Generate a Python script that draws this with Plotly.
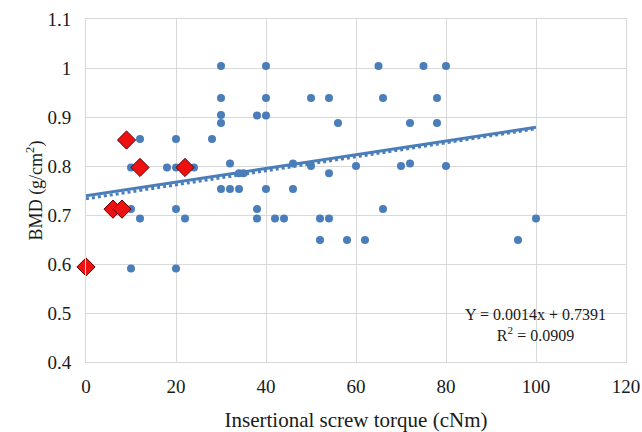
import numpy as np
import plotly.graph_objects as go

blue_x = [10, 12, 18, 20, 20, 24, 28, 10, 12, 20, 22, 10, 20,
          30, 30, 30, 30, 30, 32, 32, 34, 34, 35, 38, 40, 40, 40, 40,
          38, 38, 42, 44, 46, 46, 50, 50, 54, 54, 56, 52, 54, 52, 58, 62,
          60, 65, 66, 66, 70, 72, 72, 75, 80, 78, 78, 80, 100, 96]
blue_y = [0.797, 0.855, 0.797, 0.797, 0.855, 0.797, 0.855, 0.712, 0.693, 0.712, 0.693, 0.591, 0.591,
          1.004, 0.939, 0.904, 0.888, 0.753, 0.805, 0.753, 0.753, 0.785, 0.785, 0.903, 0.903, 1.004, 0.939, 0.753,
          0.712, 0.693, 0.693, 0.693, 0.805, 0.753, 0.939, 0.800, 0.939, 0.785, 0.888, 0.693, 0.693, 0.649, 0.649, 0.649,
          0.800, 1.004, 0.939, 0.712, 0.800, 0.805, 0.888, 1.004, 1.004, 0.939, 0.888, 0.800, 0.693, 0.649]

red_x = [0, 6, 8, 9, 12, 22]
red_y = [0.594, 0.712, 0.712, 0.853, 0.797, 0.797]

fit_slope, fit_intercept = 0.0014, 0.7391
fit2_slope, fit2_intercept = 0.00143, 0.733
fit_range = [0, 100]

x_ticks = [0, 20, 40, 60, 80, 100, 120]
y_ticks = [0.4, 0.5, 0.6, 0.7, 0.8, 0.9, 1.0, 1.1]
y_ticktext = ["0.4", "0.5", "0.6", "0.7", "0.8", "0.9", "1", "1.1"]

BLUE = "#4a7ebb"
font = "Liberation Serif"
TXT = "#1a1a1a"

fx = np.array(fit_range, dtype=float)

fig = go.Figure()
fig.add_trace(go.Scatter(x=fx, y=fit2_slope * fx + fit2_intercept, mode="lines",
                         line=dict(color=BLUE, width=3, dash="dot"), hoverinfo="skip"))
fig.add_trace(go.Scatter(x=fx, y=fit_slope * fx + fit_intercept, mode="lines",
                         line=dict(color=BLUE, width=3), hoverinfo="skip"))
fig.add_trace(go.Scatter(x=blue_x, y=blue_y, mode="markers",
                         marker=dict(color=BLUE, size=8, symbol="circle"), cliponaxis=False))
fig.add_trace(go.Scatter(x=red_x, y=red_y, mode="markers",
                         marker=dict(color="#ee1111", size=14, symbol="diamond",
                                     line=dict(color="#5a0000", width=1)), cliponaxis=False))

L, T, R, B = 86, 19, 16, 70
W, H = 642, 432
PW, PH = W - L - R, H - T - B

fig.add_annotation(x=(535 - L) / PW, y=1 - (325 - T) / PH, xref="paper", yref="paper",
                   xanchor="center", yanchor="middle", showarrow=False,
                   text="Y = 0.0014x + 0.7391<br>R<sup>2</sup> = 0.0909",
                   font=dict(family=font, size=16, color=TXT), align="center")

fig.update_layout(
    width=W, height=H,
    margin=dict(l=L, r=R, t=T, b=B),
    paper_bgcolor="white", plot_bgcolor="white",
    showlegend=False, hovermode=False,
    font=dict(family=font, size=19, color=TXT),
    xaxis=dict(range=[0, 120], tickvals=x_ticks, showgrid=True, gridcolor="#d9d9d9",
               gridwidth=1, zeroline=False, showline=True, linecolor="#d9d9d9", mirror=True,
               ticks="", ticklabelstandoff=7, automargin=False, ticklabeloverflow="allow",
               tickfont=dict(family=font, size=19, color=TXT),
               title=dict(text="Insertional screw torque (cNm)", font=dict(family=font, size=21, color=TXT),
                          standoff=31)),
    yaxis=dict(range=[0.4, 1.1], tickvals=y_ticks, ticktext=y_ticktext, showgrid=True,
               gridcolor="#d9d9d9", gridwidth=1, zeroline=False, showline=True,
               linecolor="#d9d9d9", mirror=True, ticks="", ticklabelstandoff=10, automargin=False,
               tickfont=dict(family=font, size=19, color=TXT),
               title=dict(text="BMD (g/cm<sup>2</sup>)", font=dict(family=font, size=18, color=TXT),
                          standoff=0)),
)

fig.write_html("out.html", config={"displayModeBar": False, "staticPlot": True},
               post_script="document.body.style.margin='0';document.documentElement.style.overflow='hidden';")
